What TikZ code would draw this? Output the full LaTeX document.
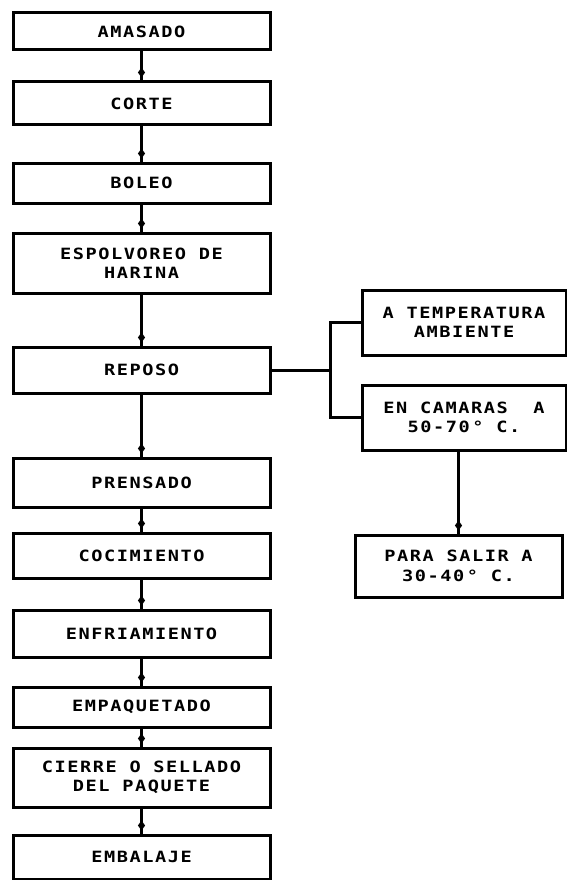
\documentclass[tikz,border=0pt]{standalone}
\usepackage{fontspec}
\newfontfamily\dm[FakeStretch=1.2,LetterSpace=10,BoldFont={DejaVu Sans Mono Bold}]{DejaVu Sans Mono}
\usetikzlibrary{decorations.markings}
\tikzset{
  box/.style={draw, line width=3pt, rectangle, align=center, inner sep=0pt,
    font=\dm\bfseries\fontsize{15.5}{19.5}\selectfont},
  lbox/.style={box, minimum width=257pt},
  conn/.style={line width=3pt},
  flow/.style={conn, postaction={decorate}, decoration={markings,
    mark=at position -8pt with {\fill (-5pt,0) -- (0,3.6pt) -- (5pt,0) -- (0,-3.6pt) -- cycle;}}}
}
\begin{document}
\begin{tikzpicture}[x=1pt,y=-1pt]
\useasboundingbox (0,0) rectangle (567,880);
\node[lbox, minimum height=37pt] (a) at (141.5,31.5) {AMASADO};
\node[lbox, minimum height=43pt] (b) at (141.5,103.5) {CORTE};
\node[lbox, minimum height=40pt] (c) at (141.5,183) {BOLEO};
\node[lbox, minimum height=60pt] (d) at (141.5,263) {ESPOLVOREO DE\\HARINA};
\node[lbox, minimum height=46pt] (e) at (141.5,370) {REPOSO};
\node[lbox, minimum height=49pt] (f) at (141.5,482.5) {PRENSADO};
\node[lbox, minimum height=45pt] (g) at (141.5,555.5) {COCIMIENTO};
\node[lbox, minimum height=47pt] (h) at (141.5,633.5) {ENFRIAMIENTO};
\node[lbox, minimum height=40pt] (i) at (141.5,707) {EMPAQUETADO};
\node[lbox, minimum height=59pt] (j) at (141.5,777.5) {CIERRE O SELLADO\\DEL PAQUETE};
\node[lbox, minimum height=44pt] (k) at (141.5,857) {EMBALAJE};

\node[box, minimum width=204pt, minimum height=65pt] (t) at (464,322.5) {A TEMPERATURA\\AMBIENTE};
\node[box, minimum width=204pt, minimum height=65pt] (m) at (464,417.5) {EN CAMARAS\ \ A\\50-70\,° C.};
\node[box, minimum width=207pt, minimum height=62pt] (p) at (458.5,566) {PARA SALIR A\\30-40\,° C.};

\foreach \u/\v in {a/b,b/c,c/d,d/e,e/f,f/g,g/h,h/i,i/j,j/k}
  \draw[flow] (\u.south) -- (\v.north);

\coordinate (s) at (330,370);
\draw[conn] (e.east) -- (s);
\draw[conn] (s) |- (t.west);
\draw[conn] (s) |- (m.west);
\draw[flow] (m.south -| p.north) -- (p.north);
\end{tikzpicture}
\end{document}
